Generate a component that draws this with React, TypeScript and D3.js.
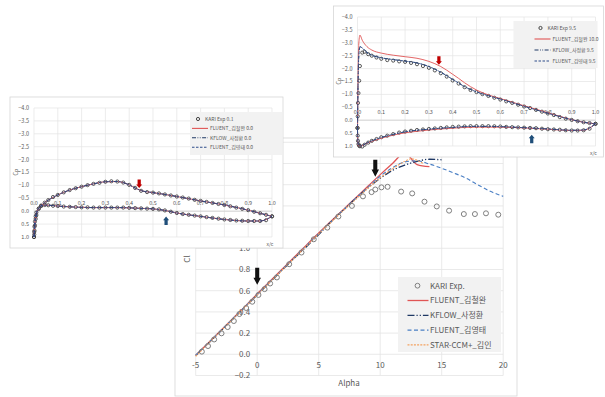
import * as d3 from 'd3';

const FONT = "'Noto Sans CJK KR', 'Noto Sans', sans-serif";
const TEXT = '#595959';
const GRID = '#e4e4e4';
const BORDER = '#d6d6d6';

// ---------- Cl vs Alpha ----------
const expAlpha = [-4.5, -4.0, -3.5, -2.9, -2.4, -1.9, -1.45, -0.9, -0.4, 0.1, 0.6, 1.05, 1.6, 2.6, 3.6, 4.6, 5.7, 6.6, 7.7, 8.6, 9.3, 9.6, 10.1, 10.6, 11.7, 12.6, 13.6, 14.6, 15.6, 16.8, 17.7, 18.6, 19.6];
const expCl = [0.025, 0.078, 0.14, 0.198, 0.257, 0.314, 0.38, 0.437, 0.496, 0.56, 0.615, 0.668, 0.725, 0.85, 0.96, 1.085, 1.195, 1.3, 1.4, 1.49, 1.53, 1.555, 1.575, 1.58, 1.535, 1.518, 1.44, 1.395, 1.355, 1.323, 1.323, 1.33, 1.317];

const cfdAlpha = [-5, -4, -3, -2, -1, 0, 1, 2, 3, 4, 5, 6, 7, 8, 9, 10, 11, 12, 13, 14, 15, 16, 17, 18, 19, 20];
const clFluentKimCW = [-0.01, 0.105, 0.22, 0.335, 0.45, 0.57, 0.685, 0.8, 0.915, 1.03, 1.145, 1.255, 1.365, 1.475, 1.585, 1.695, 1.8, 1.9, 1.79, 1.77];
const clKflow = [-0.01, 0.1, 0.215, 0.33, 0.445, 0.56, 0.675, 0.79, 0.905, 1.015, 1.13, 1.25, 1.36, 1.47, 1.57, 1.66, 1.735, 1.785, 1.82, 1.84, 1.835];
const clFluentKimYT = [-0.01, 0.105, 0.22, 0.335, 0.45, 0.565, 0.68, 0.795, 0.91, 1.025, 1.14, 1.25, 1.36, 1.47, 1.575, 1.68, 1.76, 1.815, 1.825, 1.795, 1.755, 1.71, 1.66, 1.595, 1.535, 1.49];
const starAlpha = [-5, -4, -3, -2, -1, 0, 1, 2, 3, 4, 5, 6, 7, 8, 9, 10, 11, 12, 12.5, 13, 13.5];
const clStar = [-0.02, 0.1, 0.215, 0.33, 0.445, 0.56, 0.675, 0.79, 0.905, 1.02, 1.135, 1.245, 1.355, 1.46, 1.565, 1.665, 1.75, 1.82, 1.845, 1.83, 1.8];

const alphaTicks = [-5, 0, 5, 10, 15, 20];
const clTicks = [-0.2, 0, 0.2, 0.4, 0.6, 0.8, 1.0, 1.2, 1.4, 1.6, 1.8, 2.0];
// labels above 1.0 sit behind the alpha-0 inset
const clLabelTicks = [-0.2, 0, 0.2, 0.4, 0.6, 0.8, 1.0];

// ---------- Cp distributions ----------
const cpExpX = [0, 0.001, 0.002, 0.004, 0.007, 0.01, 0.02, 0.03, 0.045, 0.06, 0.08, 0.1, 0.125, 0.15, 0.175, 0.2, 0.225, 0.25, 0.275, 0.3, 0.325, 0.35, 0.375, 0.4, 0.425, 0.45, 0.475, 0.5, 0.525, 0.55, 0.575, 0.6, 0.625, 0.65, 0.675, 0.7, 0.725, 0.75, 0.775, 0.8, 0.825, 0.85, 0.875, 0.9, 0.925, 0.95, 0.975, 1.0];
const cpExp0Upper = [1.0, 0.8, 0.6, 0.4, 0.2, 0.05, -0.1, -0.22, -0.33, -0.43, -0.55, -0.63, -0.73, -0.82, -0.89, -0.95, -1.01, -1.06, -1.1, -1.14, -1.16, -1.15, -1.11, -1.02, -0.9, -0.79, -0.74, -0.72, -0.69, -0.65, -0.61, -0.57, -0.53, -0.49, -0.44, -0.4, -0.36, -0.32, -0.28, -0.24, -0.19, -0.14, -0.09, -0.04, 0.02, 0.08, 0.14, 0.2];
const cpExp0Lower = [1.0, 0.9, 0.75, 0.55, 0.3, 0.15, -0.1, -0.2, -0.24, -0.23, -0.21, -0.2, -0.18, -0.17, -0.16, -0.15, -0.15, -0.14, -0.14, -0.14, -0.14, -0.14, -0.14, -0.13, -0.12, -0.11, -0.1, -0.09, -0.07, -0.03, 0.02, 0.07, 0.11, 0.14, 0.17, 0.2, 0.23, 0.26, 0.29, 0.32, 0.34, 0.36, 0.37, 0.38, 0.38, 0.38, 0.35, 0.2];
const cpExp95Upper = [0.3, -0.15, -0.67, -1.05, -1.53, -2.1, -2.62, -2.65, -2.56, -2.5, -2.43, -2.38, -2.33, -2.31, -2.28, -2.26, -2.22, -2.17, -2.1, -2.03, -1.93, -1.82, -1.69, -1.54, -1.42, -1.28, -1.17, -1.09, -1.01, -0.94, -0.87, -0.8, -0.73, -0.67, -0.6, -0.53, -0.47, -0.4, -0.33, -0.26, -0.2, -0.12, -0.06, -0.01, 0.04, 0.08, 0.11, 0.14];
const cpExp95Lower = [0.3, 0.6, 0.8, 0.93, 0.99, 1.01, 1.02, 0.95, 0.87, 0.8, 0.73, 0.66, 0.6, 0.54, 0.48, 0.44, 0.41, 0.38, 0.36, 0.34, 0.32, 0.3, 0.28, 0.26, 0.25, 0.24, 0.23, 0.23, 0.23, 0.23, 0.235, 0.245, 0.26, 0.27, 0.28, 0.29, 0.3, 0.31, 0.33, 0.35, 0.36, 0.37, 0.39, 0.4, 0.4, 0.39, 0.33, 0.14];

const cpCfdX = [0, 0.002, 0.005, 0.01, 0.02, 0.04, 0.06, 0.1, 0.15, 0.2, 0.25, 0.3, 0.35, 0.4, 0.425, 0.45, 0.5, 0.55, 0.6, 0.7, 0.8, 0.9, 0.95, 1.0];
const cpCfd0Upper = [1.0, 0.55, 0.3, 0.05, -0.12, -0.3, -0.43, -0.63, -0.82, -0.95, -1.06, -1.14, -1.15, -1.02, -0.9, -0.8, -0.72, -0.65, -0.57, -0.4, -0.24, -0.04, 0.08, 0.2];
const cpCfd0Lower = [1.0, 0.75, 0.45, 0.15, -0.1, -0.23, -0.23, -0.2, -0.17, -0.15, -0.14, -0.14, -0.14, -0.13, -0.12, -0.11, -0.09, -0.03, 0.07, 0.2, 0.32, 0.38, 0.38, 0.2];
const cpKimCW10Upper = [0.5, -1.5, -2.9, -3.3, -3.1, -2.85, -2.72, -2.6, -2.52, -2.46, -2.4, -2.28, -2.08, -1.78, -1.62, -1.45, -1.17, -0.98, -0.84, -0.56, -0.29, -0.02, 0.08, 0.14];
const cpKimCW10Lower = [0.5, 0.9, 1.0, 1.02, 0.98, 0.89, 0.82, 0.7, 0.58, 0.49, 0.43, 0.38, 0.34, 0.31, 0.295, 0.28, 0.27, 0.27, 0.27, 0.3, 0.35, 0.4, 0.39, 0.14];
const cpCfd95Upper = [0.4, -1.2, -2.4, -2.85, -2.8, -2.62, -2.52, -2.42, -2.35, -2.29, -2.22, -2.08, -1.86, -1.58, -1.44, -1.3, -1.1, -0.95, -0.82, -0.54, -0.27, -0.02, 0.08, 0.14];
const cpCfd95Lower = [0.4, 0.85, 0.98, 1.01, 0.98, 0.88, 0.8, 0.67, 0.55, 0.45, 0.39, 0.35, 0.31, 0.28, 0.265, 0.25, 0.24, 0.24, 0.25, 0.29, 0.34, 0.39, 0.38, 0.14];

const cpTicks = [-4, -3.5, -3, -2.5, -2, -1.5, -1, -0.5, 0, 0.5, 1];
const xcTicks = [0, 0.1, 0.2, 0.3, 0.4, 0.5, 0.6, 0.7, 0.8, 0.9, 1.0];

const RED = '#e05555';
const NAVY = '#1f3864';
const KFLOW_DASH_MAIN = '7 2 1.2 2 1.2 2';
const KFLOW_DASH_INSET = '4 1.5 0.8 1.5 0.8 1.5';

const zip = (xs: number[], ys: number[]) => ys.map((y, i) => [xs[i], y] as [number, number]);

function blockArrow(x: number, tip: number, dir: number, len: number, w: number) {
  // dir 1 = pointing down, -1 = pointing up
  const hl = len * 0.42;
  const sw = w * 0.27;
  const pts = [
    [x, tip], [x - w / 2, tip - dir * hl], [x - sw, tip - dir * hl], [x - sw, tip - dir * len],
    [x + sw, tip - dir * len], [x + sw, tip - dir * hl], [x + w / 2, tip - dir * hl],
  ];
  return 'M' + pts.map((p) => p.join(',')).join('L') + 'Z';
}

type CpLine = { upper: number[]; lower: number[]; color: string; dash: string; width: number };

type InsetProps = {
  bx: number; by: number; bw: number; bh: number;
  expUpper: number[]; expLower: number[];
  lines: CpLine[];
  names: string[];
  legend: { dx: number; w: number; h: number; gap: number; sx: number };
  arrows: { xc: number; cp: number; dir: number; color: string }[];
};

function CpInset({ bx, by, bw, bh, expUpper, expLower, lines, names, legend, arrows }: InsetProps) {
  const px = bx + 24;
  const py = by + 11;
  const pw = 238;
  const ph = 129;
  const x = d3.scaleLinear().domain([0, 1]).range([px, px + pw]);
  const y = d3.scaleLinear().domain([-4, 1]).range([py, py + ph]);
  const line = d3.line<[number, number]>().x((d) => x(d[0])).y((d) => y(d[1])).curve(d3.curveMonotoneX);
  const lx = bx + legend.dx;
  const ly = by + 15;
  const legendStyles = [
    { color: '#333', dash: '' },
    { color: RED, dash: '' },
    { color: NAVY, dash: KFLOW_DASH_INSET },
    { color: '#2f4d8a', dash: '2.5 1.5' },
  ];
  return (
    <g fontFamily={FONT}>
      <rect x={bx} y={by} width={bw} height={bh} fill="#fff" stroke={BORDER} strokeWidth={0.8} />
      {cpTicks.map((t) => (
        <line key={'h' + t} x1={px} x2={px + pw} y1={y(t)} y2={y(t)} stroke={GRID} strokeWidth={0.7} />
      ))}
      {xcTicks.map((t) => (
        <line key={'v' + t} x1={x(t)} x2={x(t)} y1={py} y2={py + ph} stroke={GRID} strokeWidth={0.7} />
      ))}
      <line x1={px} x2={px + pw} y1={y(0)} y2={y(0)} stroke="#cfcfcf" strokeWidth={0.8} />
      {cpTicks.map((t) => (
        <text key={'yl' + t} x={px - 5} y={y(t)} dy="0.35em" textAnchor="end" fontSize={5.5} fill={TEXT}>
          {d3.format('.1f')(t)}
        </text>
      ))}
      {xcTicks.map((t) => (
        <text key={'xl' + t} x={x(t)} y={y(0) - 8} dy="0.35em" textAnchor="middle" fontSize={5.5} fill={TEXT}>
          {d3.format('.1f')(t)}
        </text>
      ))}
      <text transform={`translate(${px - 16.5},${py + 64}) rotate(-90)`} textAnchor="middle" fontSize={5.5} fill={TEXT}>Cp</text>
      <text x={px + pw - 2} y={py + ph + 7} dy="0.35em" textAnchor="middle" fontSize={5} fill={TEXT}>x/c</text>

      {zip(cpExpX, expUpper).concat(zip(cpExpX, expLower)).map((d, i) => (
        <circle key={'e' + i} cx={x(d[0])} cy={y(d[1])} r={1.6} fill="none" stroke="#333" strokeWidth={0.8} />
      ))}
      {lines.map((l, i) => (
        <g key={'l' + i} fill="none" stroke={l.color} strokeWidth={l.width} strokeDasharray={l.dash}>
          <path d={line(zip(cpCfdX, l.upper)) || ''} />
          <path d={line(zip(cpCfdX, l.lower)) || ''} />
        </g>
      ))}
      {arrows.map((a, i) => (
        <path key={'a' + i} d={blockArrow(x(a.xc), y(a.cp), a.dir, 8.5, 6)} fill={a.color} />
      ))}

      <rect x={lx} y={ly} width={legend.w} height={legend.h} fill="#f2f2f2" />
      {names.map((n, i) => {
        const ry = ly + 7 + i * legend.gap;
        const s = legendStyles[i];
        const sx = lx + legend.sx;
        return (
          <g key={n}>
            {i === 0 ? (
              <circle cx={sx + 6} cy={ry} r={1.6} fill="none" stroke="#333" strokeWidth={0.9} />
            ) : (
              <line x1={sx} x2={sx + 16} y1={ry} y2={ry} stroke={s.color} strokeWidth={1.1} strokeDasharray={s.dash} />
            )}
            <text x={sx + (i === 0 ? 13 : 18)} y={ry} dy="0.35em" fontSize={5} fill={TEXT}>{n}</text>
          </g>
        );
      })}
    </g>
  );
}

export default function App() {
  const x = d3.scaleLinear().domain([-5, 20]).range([195.7, 503.2]);
  const y = d3.scaleLinear().domain([-0.2, 2.0]).range([375.5, 142.3]);
  const line = d3.line<[number, number]>().x((d) => x(d[0])).y((d) => y(d[1])).curve(d3.curveMonotoneX);

  const series = [
    { name: 'FLUENT_김철완', color: RED, dash: '', xs: cfdAlpha, ys: clFluentKimCW, w: 1.3 },
    { name: 'KFLOW_사정환', color: NAVY, dash: KFLOW_DASH_MAIN, xs: cfdAlpha, ys: clKflow, w: 1.3 },
    { name: 'FLUENT_김영태', color: '#4a7fc4', dash: '4 2.5', xs: cfdAlpha, ys: clFluentKimYT, w: 1.1 },
    { name: 'STAR-CCM+_김인', color: '#f3a260', dash: '2 1.2', xs: starAlpha, ys: clStar, w: 1.1 },
  ];

  const mainArrows = [
    { a: 0, cl: 0.655 },
    { a: 9.6, cl: 1.675 },
  ];

  const lgx = 398;
  const lgy = 277;

  return (
    <svg width={605} height={397} style={{ position: 'absolute', left: 0, top: 0, background: '#fff' }} fontFamily={FONT}>
      <rect x={0} y={0} width={605} height={397} fill="#fff" />
      {/* main Cl-alpha chart */}
      <rect x={175} y={138} width={342} height={258} fill="#fff" stroke={BORDER} strokeWidth={0.8} />
      {clTicks.map((t) => (
        <line key={'h' + t} x1={x(-5)} x2={x(20)} y1={y(t)} y2={y(t)} stroke={GRID} strokeWidth={0.8} />
      ))}
      {alphaTicks.map((t) => (
        <line key={'v' + t} x1={x(t)} x2={x(t)} y1={y(2.0)} y2={y(-0.2)} stroke={GRID} strokeWidth={0.8} />
      ))}
      {clLabelTicks.map((t) => (
        <text key={'yl' + t} x={x(0) - 7} y={y(t)} dy="0.35em" textAnchor="end" fontSize={8} fill={TEXT}>
          {d3.format('.1f')(t)}
        </text>
      ))}
      {alphaTicks.map((t) => (
        <text key={'xl' + t} x={x(t)} y={y(0) + 11} dy="0.35em" textAnchor="middle" fontSize={8} fill={TEXT}>
          {t}
        </text>
      ))}
      <text transform="translate(190,259) rotate(-90)" textAnchor="middle" fontSize={8} fill={TEXT}>Cl</text>
      <text x={349} y={383} dy="0.35em" textAnchor="middle" fontSize={8} fill={TEXT}>Alpha</text>

      {series.map((s) => (
        <path key={s.name} d={line(zip(s.xs, s.ys)) || ''} fill="none" stroke={s.color} strokeWidth={s.w} strokeDasharray={s.dash} />
      ))}
      {zip(expAlpha, expCl).map((d, i) => (
        <circle key={'p' + i} cx={x(d[0])} cy={y(d[1])} r={2.5} fill="none" stroke="#7f7f7f" strokeWidth={1} />
      ))}
      {mainArrows.map((m, i) => (
        <path key={'ma' + i} d={blockArrow(x(m.a), y(m.cl), 1, 17, 7.5)} fill="#111" />
      ))}

      <rect x={lgx} y={lgy} width={103} height={75} fill="#f2f2f2" />
      {['KARI Exp.', ...series.map((s) => s.name)].map((n, i) => {
        const ry = lgy + 8.7 + i * 14.8;
        const s = series[i - 1];
        return (
          <g key={n}>
            {i === 0 ? (
              <circle cx={lgx + 19.5} cy={ry} r={2.4} fill="none" stroke="#7f7f7f" strokeWidth={1} />
            ) : (
              <line x1={lgx + 9.5} x2={lgx + 30.5} y1={ry} y2={ry} stroke={s.color} strokeWidth={s.w} strokeDasharray={s.dash} />
            )}
            <text x={lgx + 32} y={ry} dy="0.35em" fontSize={8} fill={TEXT}>{n}</text>
          </g>
        );
      })}

      {/* Cp inset, alpha 0 */}
      <CpInset
        bx={10} by={97} bw={273} bh={151}
        expUpper={cpExp0Upper} expLower={cpExp0Lower}
        lines={[
          { upper: cpCfd0Upper, lower: cpCfd0Lower, color: RED, dash: '', width: 0.9 },
          { upper: cpCfd0Upper, lower: cpCfd0Lower, color: NAVY, dash: KFLOW_DASH_INSET, width: 0.9 },
          { upper: cpCfd0Upper, lower: cpCfd0Lower, color: '#2f4d8a', dash: '2.5 1.5', width: 0.9 },
        ]}
        names={['KARI Exp 0.1', 'FLUENT_김철완 0.0', 'KFLOW_사정환 0.0', 'FLUENT_김영태 0.0']}
        legend={{ dx: 180, w: 92, h: 43, gap: 9.4, sx: 2 }}
        arrows={[
          { xc: 0.442, cp: -0.9, dir: 1, color: '#c00000' },
          { xc: 0.555, cp: 0.21, dir: -1, color: '#1f4e79' },
        ]}
      />

      {/* Cp inset, alpha 9.5 */}
      <CpInset
        bx={333.5} by={6} bw={270} bh={151}
        expUpper={cpExp95Upper} expLower={cpExp95Lower}
        lines={[
          { upper: cpKimCW10Upper, lower: cpKimCW10Lower, color: RED, dash: '', width: 0.9 },
          { upper: cpCfd95Upper, lower: cpCfd95Lower, color: NAVY, dash: KFLOW_DASH_INSET, width: 0.9 },
          { upper: cpCfd95Upper, lower: cpCfd95Lower, color: '#2f4d8a', dash: '2.5 1.5', width: 0.9 },
        ]}
        names={['KARI Exp 9.5', 'FLUENT_김철완 10.0', 'KFLOW_사정환 9.5', 'FLUENT_김영태 9.5']}
        legend={{ dx: 180, w: 84, h: 47, gap: 11, sx: 21 }}
        arrows={[
          { xc: 0.342, cp: -2.15, dir: 1, color: '#c00000' },
          { xc: 0.732, cp: 0.56, dir: -1, color: '#1f4e79' },
        ]}
      />
    </svg>
  );
}
